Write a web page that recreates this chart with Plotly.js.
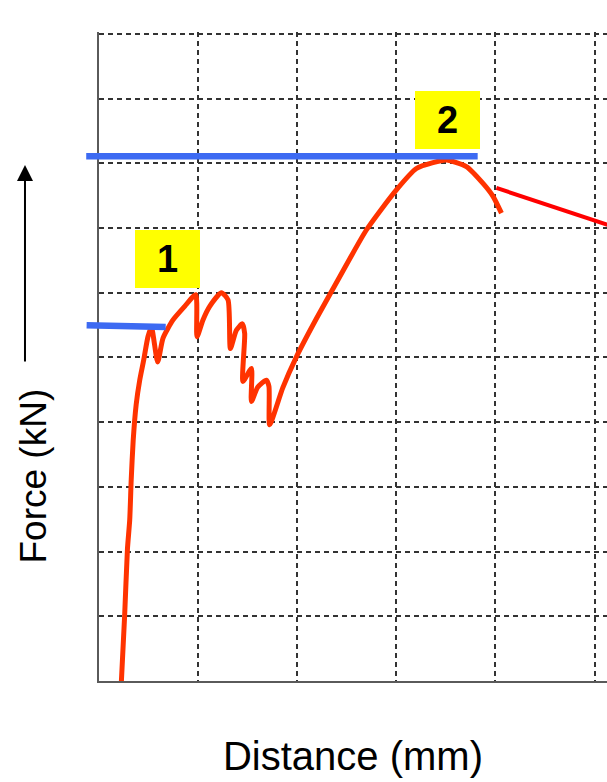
<!DOCTYPE html>
<html><head><meta charset="utf-8">
<script src="https://cdn.plot.ly/plotly-3.0.1.min.js"></script>
<style>html,body{margin:0;padding:0;background:#fff;overflow:hidden;} #chart{width:607px;height:782px;}</style>
</head><body><div id="chart"></div>
<script>
// Force-distance curve (grid units)
const distance = [0.226,0.259,0.287,0.310,0.325,0.345,0.375,0.411,0.451,0.494,0.529,
  0.592,0.646,0.747,0.865,0.976,0.989,1.049,1.117,1.235,1.302,1.326,1.386,1.447,1.470,
  1.453,1.538,1.538,1.601,1.689,1.715,1.722,1.854,1.992,2.197,2.412,2.698,3.001,3.203,
  3.370,3.506,3.707,3.875,3.976,4.061];
const force = [0,1.02,2.04,2.49,3.11,3.72,4.27,4.65,4.96,5.32,5.47,
  4.93,5.30,5.58,5.79,5.97,5.32,5.58,5.79,6.00,5.89,5.14,5.42,5.52,5.37,
  4.63,4.83,4.32,4.54,4.65,4.55,3.96,4.53,5.01,5.61,6.20,6.97,7.59,7.92,
  8.01,8.05,7.95,7.69,7.49,7.23];
// pointer line on the right
const pointerX = [4.010, 5.25];
const pointerY = [7.62, 6.99];
// reference force levels (blue lines)
const levelXStart = [-0.130, -0.134];
const levelXEnd = [0.673, 3.821];
const levelYStart = [5.50, 8.11];
const levelYEnd = [5.47, 8.11];
// numbered labels
const labelText = ['1', '2'];
const labelX = [0.696, 3.514];
const labelY = [6.52, 8.67];

const FONT = 'Liberation Sans, Arial, Helvetica, sans-serif';

const traces = [
  {x: distance, y: force, type: 'scatter', mode: 'lines',
   line: {color: '#ff3300', width: 5, shape: 'spline', smoothing: 0.6},
   hoverinfo: 'skip', showlegend: false},
  {x: pointerX, y: pointerY, type: 'scatter', mode: 'lines',
   line: {color: '#ff0000', width: 4}, hoverinfo: 'skip', showlegend: false}
];

const annotations = [];
for (let i = 0; i < levelXEnd.length; i++) {
  annotations.push({x: levelXEnd[i], y: levelYEnd[i], xref: 'x', yref: 'y',
    axref: 'x', ayref: 'y', ax: levelXStart[i], ay: levelYStart[i],
    text: '', showarrow: true, arrowhead: 0, arrowwidth: 6.5, arrowcolor: '#3d6af2',
    standoff: 0, startstandoff: 0, borderpad: 0});
}
for (let i = 0; i < labelText.length; i++) {
  annotations.push({x: labelX[i], y: labelY[i], xref: 'x', yref: 'y',
    text: '<b>' + labelText[i] + '</b>', showarrow: false,
    bgcolor: '#ffff00', width: 65, height: 58, borderpad: 0, borderwidth: 0,
    font: {family: FONT, size: 38, color: '#000'}, valign: 'middle', align: 'center'});
}
// y-axis label and arrow
annotations.push({x: -0.1299, y: 0.3151, xref: 'paper', yref: 'paper',
  text: 'Force (kN)', textangle: -90, showarrow: false,
  font: {family: FONT, size: 37, color: '#000'}, xanchor: 'center', yanchor: 'middle'});
annotations.push({x: -0.1457, y: 0.7951, xref: 'paper', yref: 'paper',
  axref: 'pixel', ayref: 'pixel', ax: 0, ay: 197, text: '', showarrow: true,
  arrowhead: 2, arrowsize: 1.6, arrowwidth: 2, arrowcolor: '#000', standoff: 0, borderpad: 0});

const gridStyle = {showgrid: true, gridcolor: '#333333', gridwidth: 2, griddash: '5px,4px',
  showline: true, linecolor: '#5a5a5a', linewidth: 2, zeroline: false,
  showticklabels: false, ticks: '', dtick: 1, tick0: 0, fixedrange: true};

const layout = {
  width: 607, height: 782,
  margin: {l: 99, r: 0, t: 32, b: 101, pad: 0},
  paper_bgcolor: '#ffffff', plot_bgcolor: '#ffffff',
  showlegend: false,
  xaxis: Object.assign({}, gridStyle, {range: [0, 5.126],
    title: {text: 'Distance (mm)', font: {family: FONT, size: 40, color: '#000'}, standoff: 60}}),
  yaxis: Object.assign({}, gridStyle, {range: [0, 10.03]}),
  annotations: annotations
};

Plotly.newPlot('chart', traces, layout, {displayModeBar: false, staticPlot: true});
</script>
</body></html>
